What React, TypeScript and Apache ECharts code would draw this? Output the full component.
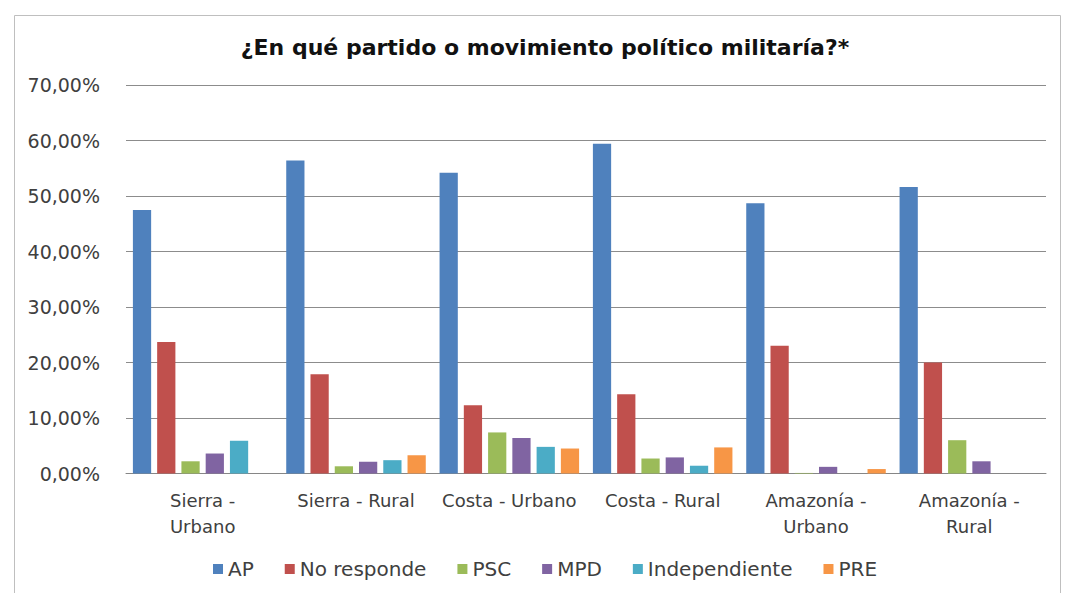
import React, { useEffect, useRef } from "react";
import * as echarts from "echarts";

const categories = [
  "Sierra -\nUrbano",
  "Sierra - Rural",
  "Costa - Urbano",
  "Costa - Rural",
  "Amazonía -\nUrbano",
  "Amazonía -\nRural",
];
const seriesNames = ["AP", "No responde", "PSC", "MPD", "Independiente", "PRE"];
const apValues = [47.5, 56.4, 54.2, 59.4, 48.7, 51.6];
const noRespondeValues = [23.7, 17.9, 12.3, 14.3, 23.0, 20.0];
const pscValues = [2.2, 1.3, 7.4, 2.7, 0.1, 6.0];
const mpdValues = [3.6, 2.1, 6.4, 2.9, 1.2, 2.2];
const independienteValues = [5.9, 2.4, 4.8, 1.4, 0, 0];
const preValues = [0, 3.3, 4.5, 4.7, 0.8, 0];
const colors = ["#4F81BD", "#C0504D", "#9BBB59", "#8064A2", "#4BACC6", "#F79646"];

const allValues = [apValues, noRespondeValues, pscValues, mpdValues, independienteValues, preValues];

export default function App() {
  const ref = useRef<HTMLDivElement>(null);
  useEffect(() => {
    if (!ref.current) return;
    const chart = echarts.init(ref.current, null, { renderer: "svg" });
    const font = "DejaVu Sans, Verdana, sans-serif";
    chart.setOption({
      animation: false,
      backgroundColor: "#ffffff",
      title: {
        text: "¿En qué partido o movimiento político militaría?*",
        left: 540,
        textAlign: "center",
        top: 31,
        textStyle: { fontFamily: font, fontSize: 22, fontWeight: "bold", color: "#111111" },
      },
      graphic: [
        {
          type: "rect",
          left: 12,
          top: 13,
          shape: { width: 1046, height: 600 },
          style: { fill: "none", stroke: "#BFBFBF", lineWidth: 1 },
          silent: true,
        },
      ],
      legend: {
        data: seriesNames,
        left: 208,
        top: 554,
        itemWidth: 10,
        itemHeight: 10,
        itemGap: 31,
        icon: "rect",
        textStyle: { fontFamily: font, fontSize: 20, color: "#404040" },
      },
      grid: { left: 126, right: 20, top: 85, bottom: 593 - 473.5 },
      xAxis: {
        type: "category",
        data: categories,
        axisLine: { lineStyle: { color: "#868686", width: 1 } },
        axisTick: { show: false },
        axisLabel: {
          fontFamily: font,
          fontSize: 18,
          color: "#404040",
          margin: 14,
          lineHeight: 26,
          interval: 0,
        },
      },
      yAxis: {
        type: "value",
        min: 0,
        max: 70,
        interval: 10,
        axisLine: { show: false },
        axisTick: { show: false },
        splitLine: { lineStyle: { color: "#8C8C8C", width: 1 } },
        axisLabel: {
          fontFamily: font,
          fontSize: 19,
          color: "#404040",
          margin: 26,
          formatter: (v: number) => v.toFixed(2).replace(".", ",") + "%",
        },
      },
      series: seriesNames.map((name, i) => ({
        name,
        type: "bar",
        data: allValues[i],
        barGap: "33%",
        barCategoryGap: "9%",
        itemStyle: { color: colors[i] },
      })),
    });
    return () => chart.dispose();
  }, []);
  return (
    <div
      ref={ref}
      style={{ position: "fixed", left: 0, top: 0, width: 1066, height: 593 }}
    />
  );
}
